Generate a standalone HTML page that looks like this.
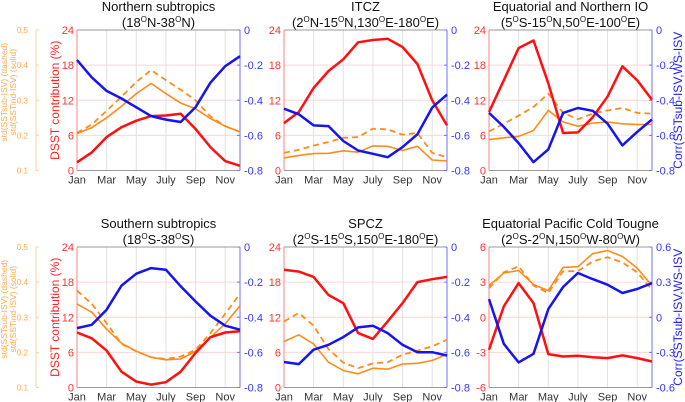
<!DOCTYPE html>
<html><head><meta charset="utf-8"><style>
body{margin:0;background:#fff;}
svg{display:block;font-family:"Liberation Sans",sans-serif;}
</style></head><body>
<svg id="chart" width="685" height="402" viewBox="0 0 685 402"></svg>
<script>
const months = ["Jan","Feb","Mar","Apr","May","Jun","July","Aug","Sep","Oct","Nov","Dec"];
const monthTicks = ["Jan","Mar","May","July","Sep","Nov"];
const leftTicks = [0,6,12,18,24];
const rightTicks = [-0.8,-0.6,-0.4,-0.2,0];
const leftTicks6 = [-6,-3,0,3,6];
const rightTicks6 = [-0.6,-0.3,0,0.3,0.6];
const stdTicks = [0.1,0.2,0.3,0.4,0.5];

const p1Red = [1.4,3.1,5.7,7.4,8.5,9.3,9.4,9.7,7.1,4.0,1.6,0.8];
const p1Blue = [-0.171,-0.27,-0.347,-0.39,-0.44,-0.49,-0.51,-0.524,-0.44,-0.30,-0.206,-0.149];
const p1Solid = [0.205,0.222,0.25,0.283,0.319,0.348,0.319,0.292,0.276,0.248,0.226,0.21];
const p1Dashed = [0.207,0.231,0.27,0.31,0.352,0.386,0.357,0.33,0.3,0.254,0.226,0.21];

const p2Red = [8.1,10,14.1,17,19,21.9,22.3,22.5,21.1,18.2,12,7.7];
const p2Blue = [-0.448,-0.48,-0.543,-0.547,-0.632,-0.686,-0.705,-0.724,-0.667,-0.594,-0.442,-0.368];
const p2Solid = [0.136,0.143,0.148,0.149,0.156,0.152,0.17,0.169,0.157,0.169,0.13,0.127];
const p2Dashed = [0.15,0.159,0.171,0.181,0.193,0.195,0.219,0.217,0.202,0.207,0.15,0.138];

const p3Red = [10,15.4,20.9,22.2,14.9,6.4,6.5,9.1,12.6,17.8,15.4,12.1];
const p3Blue = [-0.472,-0.552,-0.644,-0.752,-0.68,-0.472,-0.444,-0.46,-0.533,-0.657,-0.58,-0.509];
const p3Solid = [0.188,0.193,0.197,0.214,0.271,0.238,0.226,0.235,0.238,0.233,0.231,0.231];
const p3Dashed = [0.211,0.233,0.256,0.281,0.319,0.264,0.246,0.262,0.271,0.278,0.264,0.262];

const p4Red = [9.4,8.4,6.3,2.7,1.0,0.5,0.9,2.7,5.9,8.6,9.4,9.6];
const p4Blue = [-0.462,-0.443,-0.357,-0.22,-0.152,-0.12,-0.129,-0.224,-0.31,-0.391,-0.448,-0.471];
const p4Solid = [0.338,0.314,0.266,0.226,0.203,0.186,0.179,0.181,0.203,0.243,0.281,0.333];
const p4Dashed = [0.376,0.338,0.283,0.224,0.203,0.186,0.181,0.188,0.207,0.255,0.31,0.367];

const p5Red = [20.1,19.8,18.9,15.8,14.4,9.3,8.3,11.3,14.4,18,18.5,18.9];
const p5Blue = [-0.655,-0.667,-0.585,-0.557,-0.513,-0.458,-0.448,-0.49,-0.557,-0.599,-0.599,-0.618];
const p5Solid = [0.231,0.25,0.224,0.172,0.148,0.139,0.155,0.152,0.167,0.169,0.177,0.195];
const p5Dashed = [0.288,0.312,0.276,0.209,0.171,0.155,0.169,0.172,0.193,0.205,0.217,0.236];

const p6Red = [-2.78,0.93,2.92,1.21,-3.15,-3.35,-3.29,-3.41,-3.49,-3.26,-3.49,-3.78];
const p6Blue = [0.155,-0.227,-0.386,-0.312,0.07,0.258,0.378,0.326,0.278,0.207,0.241,0.292];
const p6Solid = [0.39,0.426,0.433,0.393,0.376,0.442,0.444,0.481,0.49,0.473,0.44,0.39];
const p6Dashed = [0.383,0.428,0.445,0.39,0.369,0.431,0.431,0.459,0.471,0.456,0.428,0.378];

const NS="http://www.w3.org/2000/svg";
const svg=document.getElementById('chart');
function mk(tag,attrs,parent){const e=document.createElementNS(NS,tag);for(const k in attrs)e.setAttribute(k,attrs[k]);(parent||svg).appendChild(e);return e;}

const panels=[
 {id:'northern-subtropics',x0:77,y0:30,t1:'Northern subtropics',t2:'(18<sup>O</sup>N-38<sup>O</sup>N)',red:p1Red,blue:p1Blue,solid:p1Solid,dashed:p1Dashed,lt:leftTicks,rt:rightTicks,showLeftTitle:true,showStd:true},
 {id:'itcz',x0:284,y0:30,t1:'ITCZ',t2:'(2<sup>O</sup>N-15<sup>O</sup>N,130<sup>O</sup>E-180<sup>O</sup>E)',red:p2Red,blue:p2Blue,solid:p2Solid,dashed:p2Dashed,lt:leftTicks,rt:rightTicks},
 {id:'equatorial-northern-io',x0:489,y0:30,t1:'Equatorial and Northern IO',t2:'(5<sup>O</sup>S-15<sup>O</sup>N,50<sup>O</sup>E-100<sup>O</sup>E)',red:p3Red,blue:p3Blue,solid:p3Solid,dashed:p3Dashed,lt:leftTicks,rt:rightTicks,showRightTitle:true},
 {id:'southern-subtropics',x0:77,y0:247,t1:'Southern subtropics',t2:'(18<sup>O</sup>S-38<sup>O</sup>S)',red:p4Red,blue:p4Blue,solid:p4Solid,dashed:p4Dashed,lt:leftTicks,rt:rightTicks,showLeftTitle:true,showStd:true},
 {id:'spcz',x0:284,y0:247,t1:'SPCZ',t2:'(2<sup>O</sup>S-15<sup>O</sup>S,150<sup>O</sup>E-180<sup>O</sup>E)',red:p5Red,blue:p5Blue,solid:p5Solid,dashed:p5Dashed,lt:leftTicks,rt:rightTicks},
 {id:'equatorial-pacific-cold-tongue',x0:489,y0:247,t1:'Equatorial Pacific Cold Tougne',t2:'(2<sup>O</sup>S-2<sup>O</sup>N,150<sup>O</sup>W-80<sup>O</sup>W)',red:p6Red,blue:p6Blue,solid:p6Solid,dashed:p6Dashed,lt:leftTicks6,rt:rightTicks6,showRightTitle:true}
];
const W=163,H=140.5;

function titleText(g,x,y,html,name){
  const t=mk('text',{x:x,y:y,'text-anchor':'middle','font-size':13,fill:'#111'},g);
  
  
  const parts=html.split(/(<sup>O<\/sup>)/);
  let pend=0;
  parts.forEach(p=>{
    if(p==='<sup>O</sup>'){const s=mk('tspan',{dy:-5,'font-size':8},t);s.textContent='O';pend=5;}
    else if(p){const a={};if(pend){a.dy=pend;pend=0;}const s=mk('tspan',a,t);s.textContent=p;}
  });
}

panels.forEach(p=>{
  const g=mk('g',{});
  
  
  const lmin=p.lt[0],lmax=p.lt[p.lt.length-1],rmin=p.rt[0],rmax=p.rt[p.rt.length-1];
  const xs=i=>p.x0+i*W/11;
  const yl=v=>p.y0+H-(v-lmin)/(lmax-lmin)*H;
  const yr=v=>p.y0+H-(v-rmin)/(rmax-rmin)*H;
  const ys=v=>p.y0+H-(v-0.1)/0.4*H;
  monthTicks.forEach(m=>{const i=months.indexOf(m);if(i>0){const l=mk('line',{x1:xs(i),x2:xs(i),y1:p.y0,y2:p.y0+H,stroke:'#e2e2e2','stroke-width':1},g);}});
  p.lt.forEach((v,k)=>{if(k>0&&k<p.lt.length-1){const l=mk('line',{x1:p.x0,x2:p.x0+W,y1:yl(v),y2:yl(v),stroke:'#fbd6d6','stroke-width':1},g);}});
  mk('line',{x1:p.x0,x2:p.x0+W,y1:p.y0,y2:p.y0,stroke:'#777','stroke-width':0.8},g);
  mk('line',{x1:p.x0,x2:p.x0+W,y1:p.y0+H,y2:p.y0+H,stroke:'#777','stroke-width':0.8},g);
  const la=mk('line',{x1:p.x0,x2:p.x0,y1:p.y0,y2:p.y0+H,stroke:'#ff8080','stroke-width':1},g);
  
  const ra=mk('line',{x1:p.x0+W,x2:p.x0+W,y1:p.y0,y2:p.y0+H,stroke:'#7070ff','stroke-width':1},g);
  
  p.lt.forEach(v=>{const t=mk('text',{x:p.x0-3,y:yl(v)+4,'text-anchor':'end','font-size':11,fill:'#ff3030'},g);t.textContent=v;
    });
  p.rt.forEach(v=>{mk('line',{x1:p.x0+W-3,x2:p.x0+W,y1:yr(v),y2:yr(v),stroke:'#7070ff'},g);const t=mk('text',{x:p.x0+W+4,y:yr(v)+4,'font-size':11,fill:'#3535ff'},g);t.textContent=v;
    });
  monthTicks.forEach(m=>{const i=months.indexOf(m);const t=mk('text',{x:xs(i),y:p.y0+H+13,'text-anchor':'middle','font-size':11,fill:'#333'},g);t.textContent=m;
    });
  const line=(arr,f,col,w,dash,name)=>{const d=arr.map((v,i)=>(i?'L':'M')+xs(i).toFixed(1)+','+f(v).toFixed(1)).join('');
    const a={d:d,fill:'none',stroke:col,'stroke-width':w,'stroke-linejoin':'round'};if(dash)a['stroke-dasharray']=dash;
    const e=mk('path',a,g);};
  line(p.dashed,ys,'#ff8c1a',1.8,'6,4','std-sstsub-dashed-line');
  line(p.solid,ys,'#ff8c1a',1.6,null,'std-sstind-solid-line');
  line(p.red,yl,'#ff1010',2.5,null,'dsst-contribution-line');
  line(p.blue,yr,'#1515ee',2.5,null,'corr-line');
  titleText(g,p.x0+W/2,p.y0-19,p.t1,'panel-title');
  titleText(g,p.x0+W/2,p.y0-3,p.t2,'panel-subtitle');
  if(p.showLeftTitle){const t=mk('text',{x:0,y:0,'text-anchor':'middle','font-size':12,fill:'#ff2020',transform:`translate(${p.x0-18},${p.y0+H/2}) rotate(-90)`},g);t.textContent='DSST contribution (%)';
    }
  if(p.showRightTitle){const t=mk('text',{x:0,y:0,'text-anchor':'middle','font-size':12,fill:'#2020ff',transform:`translate(${p.x0+W+30},${p.y0+H/2}) rotate(-90)`},g);t.textContent='Corr(SSTsub-ISV,WS-ISV';
    }
  if(p.showStd){
    const ax=36;
    const sl=mk('line',{x1:ax,x2:ax,y1:p.y0,y2:p.y0+H,stroke:'#ffd0a0','stroke-width':1},g);
    
    stdTicks.forEach(v=>{mk('line',{x1:ax,x2:ax+3,y1:ys(v),y2:ys(v),stroke:'#ffd0a0'},g);const t=mk('text',{x:ax-8,y:ys(v)+3,'text-anchor':'end','font-size':8,fill:'#ffa850'},g);t.textContent=v;
      });
    const t1=mk('text',{x:0,y:0,'text-anchor':'middle','font-size':8.5,fill:'#ffa850',transform:`translate(7,${p.y0+H/2-8}) rotate(-90)`},g);t1.textContent='std(SSTsub-ISV) (dashed)';
    
    const t2=mk('text',{x:0,y:0,'text-anchor':'middle','font-size':8.5,fill:'#ffa850',transform:`translate(16,${p.y0+H/2-8}) rotate(-90)`},g);t2.textContent='std(SSTind-ISV) (solid)';
    
  }
});
</script>
</body></html>
